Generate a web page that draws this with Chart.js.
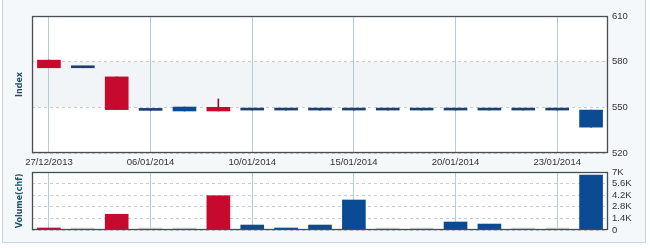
<!DOCTYPE html>
<html><head><meta charset="utf-8">
<script src="https://cdn.jsdelivr.net/npm/chart.js@4/dist/chart.umd.min.js"></script>
<style>
html,body{margin:0;padding:0;background:#fff;width:650px;height:248px;overflow:hidden}
#panel{position:absolute;left:2px;top:0;width:642px;height:242px;background:#f4f8fa;border:1px solid #c9d6dc;border-top:none}
#c1{position:absolute;left:0;top:0}
#c2{position:absolute;left:0;top:160px}
</style></head><body>
<div id="panel"></div>
<canvas id="c1" width="650" height="170"></canvas>
<canvas id="c2" width="650" height="80"></canvas>
<script>
const dates = ['27/12/2013','30/12/2013','31/12/2013','06/01/2014','07/01/2014','08/01/2014','10/01/2014','13/01/2014','14/01/2014','15/01/2014','16/01/2014','17/01/2014','20/01/2014','21/01/2014','22/01/2014','23/01/2014','24/01/2014'];
const opens  = [581, 576, 570, 548, 547.6, 550, 548.2, 548.2, 548.2, 548.2, 548.2, 548.2, 548.2, 548.2, 548.2, 548.2, 537];
const closes = [576, 576, 548.5, 548, 550.2, 547.6, 548.2, 548.2, 548.2, 548.2, 548.2, 548.2, 548.2, 548.2, 548.2, 548.2, 548.2];
const highs  = [581, 576, 570, 548, 550.2, 555.5, 548.2, 548.2, 548.2, 548.2, 548.2, 548.2, 548.2, 548.2, 548.2, 548.2, 548.2];
const lows   = [576, 576, 548.5, 548, 547.6, 547.6, 548.2, 548.2, 548.2, 548.2, 548.2, 548.2, 548.2, 548.2, 548.2, 548.2, 537];
const volumes = [150, 0, 1900, 0, 0, 4140, 600, 150, 600, 3620, 0, 0, 965, 720, 0, 0, 6640];
const volDir  = ['down','flat','down','flat','flat','down','up','up','up','up','flat','flat','up','up','flat','flat','up'];
const priceTicks = [520, 550, 580, 610];
const volTickValues = [0, 1400, 2800, 4200, 5600, 7000];
const volTickLabels = ['0', '1.4K', '2.8K', '4.2K', '5.6K', '7K'];

const RED = '#c60a2e', BLUE = '#0b4b94', FLAT = '#1d3f6e', GREY = '#cfd6da';
const tickFont = {family:'Liberation Sans', size:9.5};
const titleFont = {family:'DejaVu Sans', size:8, weight:'bold'};
const gridV = ctx => (ctx.index % 3 === 0 ? '#b7cbd4' : 'rgba(0,0,0,0)');

const framePlugin = {
  id:'frame',
  beforeDraw(chart, args, opts){
    const {ctx, chartArea:a} = chart;
    ctx.save();
    ctx.fillStyle = '#ffffff';
    ctx.fillRect(a.left, a.top, a.right-a.left, a.bottom-a.top);
    if (opts.band) {
      const y = chart.scales.y;
      const y1 = y.getPixelForValue(opts.band[1]), y2 = y.getPixelForValue(opts.band[0]);
      ctx.fillStyle = '#f1f5f8';
      ctx.fillRect(a.left, y1, a.right-a.left, y2-y1);
    }
    ctx.restore();
  },
  afterDraw(chart){
    const {ctx, chartArea:a} = chart;
    ctx.save();
    ctx.strokeStyle = '#474d50';
    ctx.lineWidth = 1.3;
    ctx.strokeRect(a.left+0.5, a.top+0.5, a.right-a.left-1, a.bottom-a.top-1);
    ctx.restore();
  }
};

const bodyColors = opens.map((o,i)=> closes[i] < o ? RED : (closes[i] > o ? BLUE : FLAT));
const wickColors = opens.map((o,i)=> closes[i] < o ? '#8a1530' : FLAT);

new Chart(document.getElementById('c1'), {
  type:'bar',
  data:{
    labels: dates,
    datasets:[
      {data: lows.map((l,i)=>[l, highs[i]]), backgroundColor: wickColors, barThickness:1, grouped:false, order:2},
      {data: opens.map((o,i)=>[o, closes[i]]), backgroundColor: bodyColors, barThickness:23, minBarLength:2, grouped:false, order:1}
    ]
  },
  options:{
    responsive:false, animation:false,
    layout:{padding:{top:16, left:0, right:0, bottom:0}},
    plugins:{legend:{display:false}, tooltip:{enabled:false}, frame:{band:[550,580]}},
    scales:{
      x:{
        grid:{offset:false, color:gridV, drawTicks:false},
        border:{display:false},
        ticks:{autoSkip:false, maxRotation:0, padding:4, color:'#333', font:tickFont,
          callback:(v,i)=> i % 3 === 0 ? dates[i] : ''},
        afterFit:s=>{s.height = 17;}
      },
      y:{
        position:'right', min:520, max:610,
        afterBuildTicks:s=>{s.ticks = priceTicks.map(v=>({value:v}));},
        grid:{color:'#c4cdd2', drawTicks:false},
        border:{display:false, dash:[3,3]},
        ticks:{padding:4, color:'#333', font:tickFont},
        afterFit:s=>{s.width = 42;}
      },
      yl:{
        position:'left', display:true,
        grid:{display:false, drawTicks:false}, border:{display:false},
        ticks:{display:false},
        title:{display:true, text:'Index', color:'#1a5266', font:titleFont, padding:{top:15,bottom:0}},
        afterFit:s=>{s.width = 32;}
      }
    }
  },
  plugins:[framePlugin]
});

const volColors = volDir.map(d => d==='down' ? RED : (d==='up' ? BLUE : GREY));

new Chart(document.getElementById('c2'), {
  type:'bar',
  data:{
    labels: dates,
    datasets:[{data: volumes, backgroundColor: volColors, barThickness:23, minBarLength:2}]
  },
  options:{
    responsive:false, animation:false,
    layout:{padding:{top:12, left:0, right:0, bottom:0}},
    plugins:{legend:{display:false}, tooltip:{enabled:false}},
    scales:{
      x:{
        grid:{offset:false, color:gridV, drawTicks:false},
        border:{display:false},
        ticks:{display:false},
        afterFit:s=>{s.height = 10;}
      },
      y:{
        position:'right', min:0, max:7000,
        afterBuildTicks:s=>{s.ticks = volTickValues.map(v=>({value:v}));},
        ticks:{autoSkip:false, padding:4, color:'#333', font:tickFont,
          callback:(v)=> volTickLabels[volTickValues.indexOf(v)]},
        grid:{color:'#c4cdd2', drawTicks:false},
        border:{display:false, dash:[3,3]},
        afterFit:s=>{s.width = 42;}
      },
      yl:{
        position:'left', display:true,
        grid:{display:false, drawTicks:false}, border:{display:false},
        ticks:{display:false},
        title:{display:true, text:'Volume(chf)', color:'#1a5266', font:titleFont, padding:{top:15,bottom:0}},
        afterFit:s=>{s.width = 32;}
      }
    }
  },
  plugins:[framePlugin]
});
</script>
</body></html>
